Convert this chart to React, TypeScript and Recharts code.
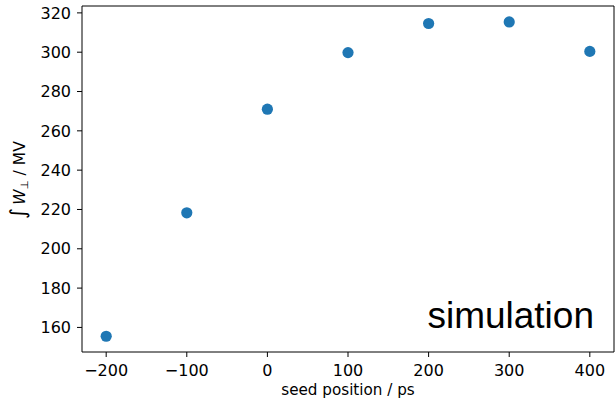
import React from 'react';
import { ScatterChart, Scatter, XAxis, YAxis, ReferenceLine, Customized } from 'recharts';

const seedPositions = [-200, -100, 0, 100, 200, 300, 400];
const integratedWperp = [155.5, 218.3, 271.0, 299.8, 314.6, 315.4, 300.4];
const xTicks = [-200, -100, 0, 100, 200, 300, 400];
const yTicks = [160, 180, 200, 220, 240, 260, 280, 300, 320];
const xDomain: [number, number] = [-230, 430];
const yDomain: [number, number] = [147.5, 323.5];

const data = seedPositions.map((x, i) => ({ x, y: integratedWperp[i] }));

const FONT = 'DejaVu Sans';
const tickStyle = { fill: '#000', fontSize: 16, fontFamily: FONT };
const fmt = (v: number) => (v < 0 ? '\u2212' + Math.abs(v) : String(v));

const Dot = (props: any) => (
  <circle cx={props.cx} cy={props.cy} r={5.6} fill="#1f77b4" />
);

const YLabel = (props: any) => {
  const vb = props.viewBox || { x: 0, y: 6, width: 82, height: 346 };
  const cx = 25;
  const cy = vb.y + vb.height / 2 + 1;
  return (
    <text
      x={cx}
      y={cy}
      transform={`rotate(-90, ${cx}, ${cy})`}
      textAnchor="middle"
      fontFamily={FONT}
      fontSize={15.5}
      fill="#000"
    >
      <tspan fontSize={21} fontStyle="italic">∫</tspan>
      <tspan dx={3} fontStyle="italic">W</tspan>
      <tspan fontSize={10.5} dy={3}>⊥</tspan>
      <tspan dy={-3}>{'  / MV'}</tspan>
    </text>
  );
};

const XLabel = (props: any) => {
  const vb = props.viewBox || { x: 82, y: 352, width: 532, height: 48 };
  return (
    <text
      x={vb.x + vb.width / 2}
      y={395}
      textAnchor="middle"
      fontFamily={FONT}
      fontSize={15.2}
      fill="#000"
    >
      seed position / ps
    </text>
  );
};

const Annotation = () => (
  <text
    x={594}
    y={328}
    textAnchor="end"
    fontFamily="Liberation Sans"
    fontSize={37}
    fill="#000"
  >
    simulation
  </text>
);

export default function App() {
  return (
    <div style={{ position: 'absolute', left: 0, top: 0 }}>
      <ScatterChart
        width={616}
        height={400}
        margin={{ top: 6, right: 2, bottom: 0, left: 0 }}
      >
        <XAxis
          type="number"
          dataKey="x"
          domain={xDomain}
          ticks={xTicks}
          tickFormatter={fmt}
          height={48}
          tickSize={5}
          tickMargin={8}
          stroke="#000"
          tick={tickStyle}
          allowDataOverflow
          label={<XLabel />}
        />
        <YAxis
          type="number"
          dataKey="y"
          domain={yDomain}
          ticks={yTicks}
          width={82}
          tickSize={5}
          tickMargin={6}
          stroke="#000"
          tick={tickStyle}
          allowDataOverflow
          label={<YLabel />}
        />
        <ReferenceLine y={yDomain[1]} stroke="#000" strokeWidth={1} />
        <ReferenceLine x={xDomain[1]} stroke="#000" strokeWidth={1} />
        <Scatter data={data} shape={Dot} isAnimationActive={false} />
        <Customized component={Annotation} />
      </ScatterChart>
    </div>
  );
}
